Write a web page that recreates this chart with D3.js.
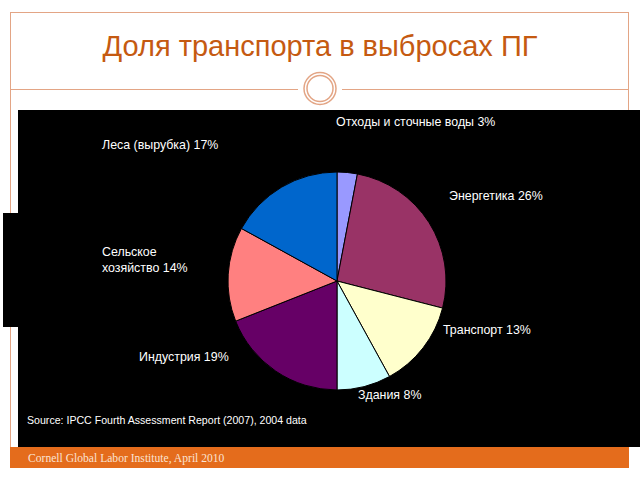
<!DOCTYPE html>
<html>
<head>
<meta charset="utf-8">
<script src="https://cdn.jsdelivr.net/npm/d3@7"></script>
<style>
  body { margin: 0; background: #fff; }
  svg { display: block; }
</style>
</head>
<body>
<svg id="chart" width="640" height="480"></svg>
<script>
// data
const sectors = ["Отходы и сточные воды", "Энергетика", "Транспорт", "Здания",
                 "Индустрия", "Сельское хозяйство", "Леса (вырубка)"];
const shares = [3, 26, 13, 8, 19, 14, 17];
const colors = ["#9999ff", "#993366", "#ffffcc", "#ccffff", "#660066", "#ff8080", "#0066cc"];
const titleText = "Доля транспорта в выбросах ПГ";
const sourceText = "Source: IPCC Fourth Assessment Report (2007), 2004 data";
const footerText = "Cornell Global Labor Institute, April 2010";

// where each label sits (x, y of first baseline) and how it breaks
const labelLayout = [
  {x: 336, y: 126, lines: ["Отходы и сточные воды 3%"]},
  {x: 449, y: 200, lines: ["Энергетика 26%"]},
  {x: 443, y: 334, lines: ["Транспорт 13%"]},
  {x: 358, y: 399, lines: ["Здания 8%"]},
  {x: 139, y: 361, lines: ["Индустрия 19%"]},
  {x: 102, y: 256, lines: ["Сельское", "хозяйство 14%"]},
  {x: 102, y: 149, lines: ["Леса (вырубка) 17%"]}
];

const svg = d3.select("#chart");
const frameColor = "#e3a585";

// slide frame
svg.append("rect")
  .attr("x", 10.5).attr("y", 12.5)
  .attr("width", 618).attr("height", 455)
  .attr("fill", "none").attr("stroke", frameColor).attr("stroke-width", 1);

svg.append("text")
  .attr("x", 320).attr("y", 56)
  .attr("text-anchor", "middle")
  .style("font-family", "Liberation Sans, Arial, sans-serif")
  .style("font-size", "29px")
  .style("fill", "#c55a11")
  .text(titleText);

// divider with ring (line breaks around the ring)
svg.append("line")
  .attr("x1", 10).attr("x2", 298).attr("y1", 89.5).attr("y2", 89.5)
  .attr("stroke", frameColor);
svg.append("line")
  .attr("x1", 342).attr("x2", 629).attr("y1", 89.5).attr("y2", 89.5)
  .attr("stroke", frameColor);
svg.append("circle")
  .attr("cx", 320).attr("cy", 88.5).attr("r", 16)
  .attr("fill", "#fff").attr("stroke", frameColor).attr("stroke-width", 1.5);
svg.append("circle")
  .attr("cx", 320).attr("cy", 88.5).attr("r", 13)
  .attr("fill", "#fff").attr("stroke", frameColor).attr("stroke-width", 1.5);

// black chart panel plus the little tab on the left
svg.append("rect").attr("x", 3).attr("y", 213).attr("width", 20).attr("height", 114).attr("fill", "#000");
svg.append("rect").attr("x", 18).attr("y", 110).attr("width", 622).attr("height", 337).attr("fill", "#000");

// footer bar
svg.append("rect")
  .attr("x", 10).attr("y", 447).attr("width", 619).attr("height", 21)
  .attr("fill", "#e46c1c");
svg.append("text")
  .attr("x", 28).attr("y", 461.5)
  .style("font-family", "Liberation Serif, Times New Roman, serif")
  .style("font-size", "11.6px")
  .style("fill", "#fbe3d3")
  .text(footerText);

// pie
const cx = 337, cy = 281, radius = 109;
const pie = d3.pie().sort(null).value(d => d);
const arc = d3.arc().innerRadius(0).outerRadius(radius);

const g = svg.append("g").attr("transform", "translate(" + cx + "," + cy + ")");
g.selectAll("path")
  .data(pie(shares))
  .enter().append("path")
    .attr("d", arc)
    .attr("fill", (d, i) => colors[i])
    .attr("stroke", "#000")
    .attr("stroke-width", 1);

// labels
const labels = svg.selectAll("text.lbl")
  .data(sectors)
  .enter().append("text")
    .attr("class", "lbl")
    .attr("x", (d, i) => labelLayout[i].x)
    .attr("y", (d, i) => labelLayout[i].y)
    .style("font-family", "Liberation Sans, Arial, sans-serif")
    .style("font-size", "12.4px")
    .style("fill", "#fff");
labels.each(function(d, i) {
  const t = d3.select(this);
  labelLayout[i].lines.forEach((line, k) => {
    t.append("tspan")
      .attr("x", labelLayout[i].x)
      .attr("dy", k === 0 ? 0 : 16)
      .text(line);
  });
});

svg.append("text")
  .attr("x", 27).attr("y", 424)
  .style("font-family", "Liberation Sans, Arial, sans-serif")
  .style("font-size", "10.6px")
  .style("fill", "#fff")
  .text(sourceText);
</script>
</body>
</html>
